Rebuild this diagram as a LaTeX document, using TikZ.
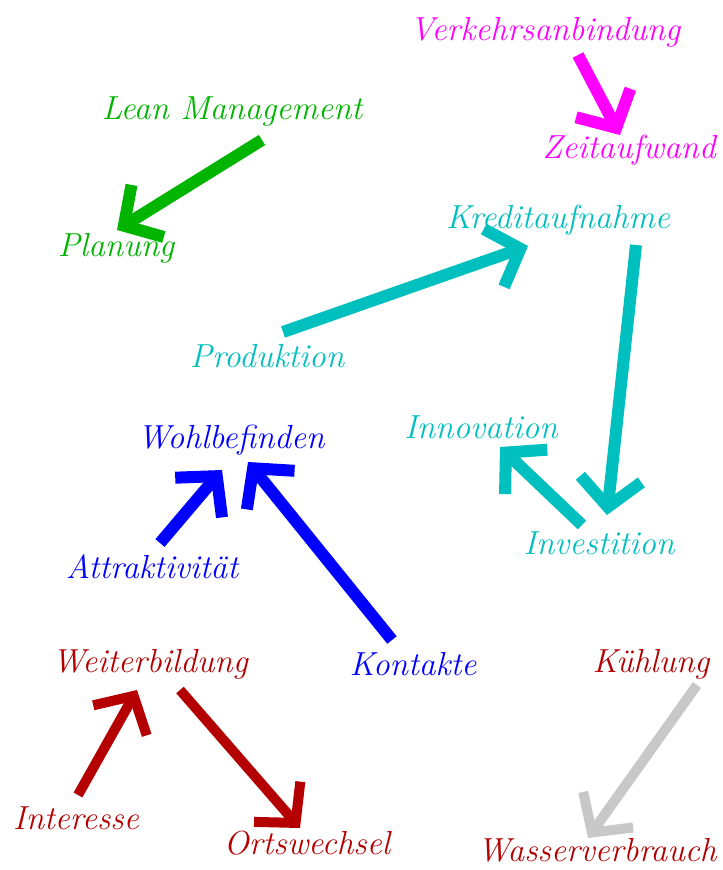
\documentclass[tikz,border=0pt]{standalone}
\usetikzlibrary{arrows.meta}
\definecolor{cmag}{HTML}{FF00FF}
\definecolor{cgreen}{HTML}{00B400}
\definecolor{ccyan}{HTML}{00BFBF}
\definecolor{cblue}{HTML}{0000FF}
\definecolor{cred}{HTML}{B40000}
\definecolor{cgray}{HTML}{C8C8C8}
\begin{document}
\begin{tikzpicture}[x=0.75pt,y=-0.75pt,
  lbl/.style={font=\fontsize{25}{29}\selectfont\itshape, inner sep=0pt},
  arr/.style={line width=9pt, line cap=butt,
    -{Straight Barb[length=21pt,width=46pt]}},
  thinarr/.style={arr, line width=7.5pt}]
\fill[white] (0,0) rectangle (722,870);
\useasboundingbox (0,0) rectangle (722,870);

% labels
\node[lbl,text=cmag]  (verk)  at (545,32)  {Verkehrsanbindung};
\node[lbl,text=cmag]  (zeit)  at (629,150) {Zeitaufwand};
\node[lbl,text=cgreen] (lean) at (232,112) {Lean Management};
\node[lbl,text=cgreen] (plan) at (116,248) {Planung};
\node[lbl,text=ccyan] (kred)  at (558,220) {Kreditaufnahme};
\node[lbl,text=ccyan] (prod)  at (267,356) {Produktion};
\node[lbl,text=ccyan] (innov) at (481,427) {Innovation};
\node[lbl,text=ccyan] (inv)   at (599,543) {Investition};
\node[lbl,text=cblue] (wohl)  at (231,440) {Wohlbefinden};
\node[lbl,text=cblue] (attr)  at (152,567) {Attraktivität};
\node[lbl,text=cblue] (kont)  at (413,664) {Kontakte};
\node[lbl,text=cred]  (weit)  at (150,664) {Weiterbildung};
\node[lbl,text=cred]  (inter) at (76,818)  {Interesse};
\node[lbl,text=cred]  (orts)  at (307,843) {Ortswechsel};
\node[lbl,text=cred]  (kuehl) at (651,664) {Kühlung};
\node[lbl,text=cred]  (wass)  at (597,850) {Wasserverbrauch};

% connectors
\draw[arr,cmag] ([shift={(33,23)}]verk.center) -- ([shift={(-9,-15)}]zeit.center);
\draw[arr,cgreen] ([shift={(30,28)}]lean.center) -- ([shift={(1,-18)}]plan.center);
\draw[arr,ccyan] ([shift={(16,-24)}]prod.center) -- ([shift={(-30,26)}]kred.center);
\draw[arr,ccyan] ([shift={(78,25)}]kred.center) -- ([shift={(8,-28)}]inv.center);
\draw[arr,ccyan] ([shift={(-17,-18)}]inv.center) -- ([shift={(19,20)}]innov.center);
\draw[arr,cblue] ([shift={(8,-24)}]attr.center) -- ([shift={(-9,30)}]wohl.center);
\draw[arr,cblue] ([shift={(-21,-24)}]kont.center) -- ([shift={(17,22)}]wohl.center);
\draw[thinarr,cred] ([shift={(2,-23)}]inter.center) -- ([shift={(-13,26)}]weit.center);
\draw[thinarr,cred] ([shift={(30,26)}]weit.center) -- ([shift={(-7,-15)}]orts.center);
\draw[thinarr,cgray] ([shift={(46,21)}]kuehl.center) -- ([shift={(-9,-12)}]wass.center);
\end{tikzpicture}
\end{document}
